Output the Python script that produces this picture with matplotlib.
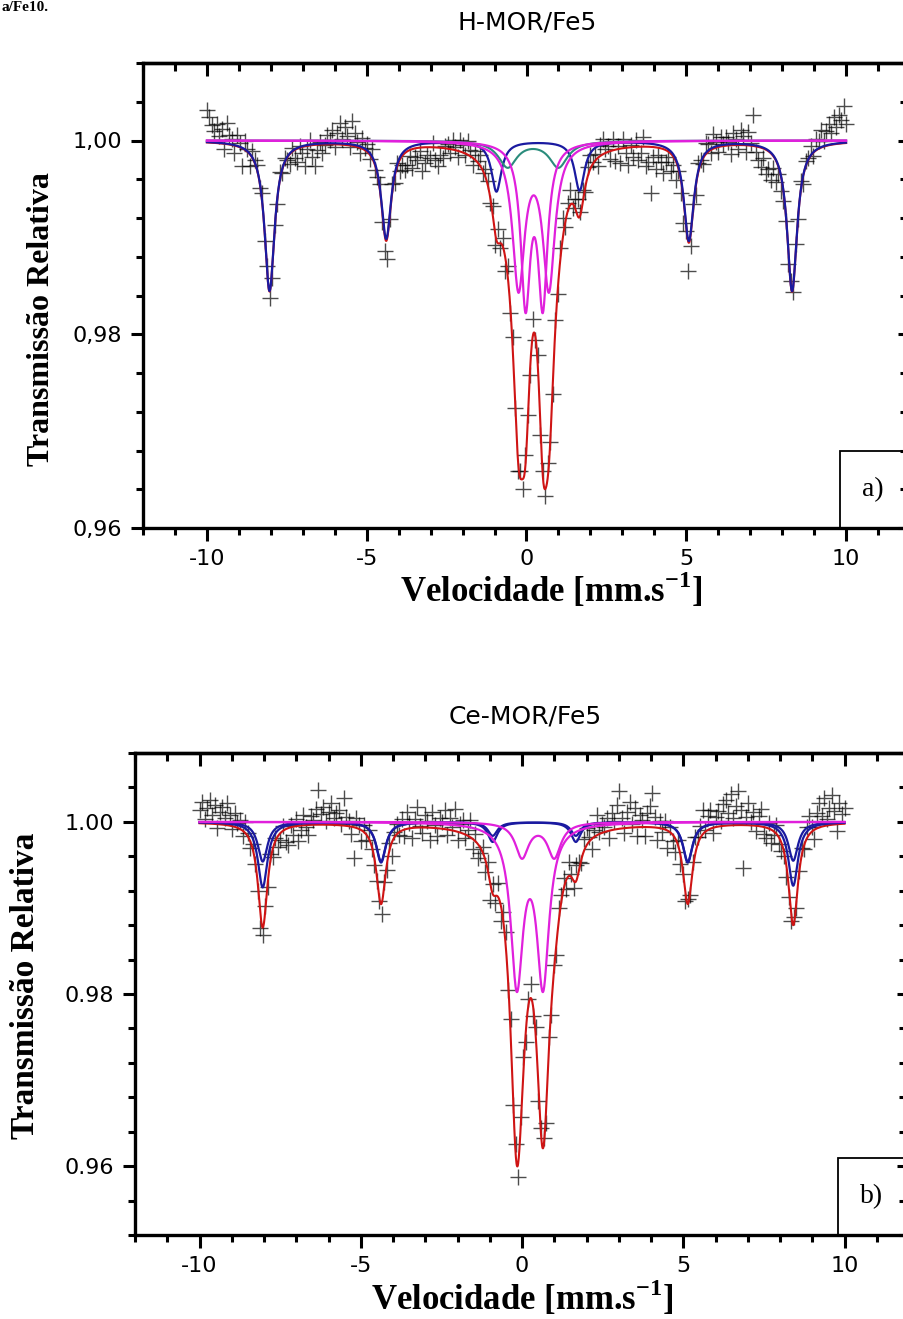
import numpy as np
import matplotlib.pyplot as plt
from matplotlib.ticker import MultipleLocator, FixedLocator, FixedFormatter
from matplotlib.patches import Rectangle

plt.rcParams['font.family'] = ['DejaVu Sans']
plt.rcParams['axes.unicode_minus'] = False
plt.rcParams['mathtext.fontset'] = 'custom'
plt.rcParams['mathtext.rm'] = 'Liberation Serif'
plt.rcParams['mathtext.bf'] = 'Liberation Serif:bold'

# velocity channels of the spectrometer (mm/s)
n_channels = 256
velocity = np.linspace(-10, 10, n_channels)
v_fit = np.linspace(-10, 10, 2001)

# ---------- a) H-MOR/Fe5 : Lorentzian components ----------
a_sext_pos = [-8.04, -4.39, -0.94, 1.66, 5.08, 8.31]
a_sext_depth = [0.0155, 0.0101, 0.0052, 0.0051, 0.0103, 0.0155]
a_sext_fwhm = 0.38
a_green_pos = [-0.59, 1.00]
a_green_depth = [0.0027, 0.0027]
a_green_fwhm = 0.70
a_magA_pos = [-0.25, 0.70]
a_magA_depth = [0.0149, 0.0149]
a_magA_fwhm = 0.46
a_magB_pos = [-0.03, 0.51]
a_magB_depth = [0.0162, 0.0162]
a_magB_fwhm = 0.36
# central lines of the total fit (red)
a_fit_pos = [-0.25, 0.70, -0.03, 0.51]
a_fit_depth = [0.0230, 0.0212, 0.0164, 0.0170]
a_fit_fwhm = [0.46, 0.46, 0.36, 0.36]

# residuals of the measured points about the fit (units of 1e-4)
a_resid = [
    33, 26, 18, 12, 20, 8, 15, -5, 22, 10,
    6, -8, 12, 4, -18, 9, 2, -12, 7, 3,
    5, -6, 8, -10, 4, -7, -9, 6, -4, 10, -3, 5,
    -2, -10, 4, -8, -14, 2, -6, -20, -3, 6, -12, -22, -5, 3, -9, -1,
    10, 4, 15, -3, 12, 22, 6, 18, 9, -2, 26, 14, 5, -6, 11, 2,
    8, -4, 10, -6, -3, 6, -9, -15, -22, -5, 7, -8, 3, -12, -10, -18,
    -14, -6, -20, -9, -12, -3, -24, -16, -8, -11, 4, -13, -19, -7, -10, 2,
    5, -4, 10, 3, -6, 12, 8, -2, 14, 6, -8, 9, 2, 11, -3, 7,
    4, -6, 9, -12, 15, -5, 8, -14, 10, -8, 12, -3, -15, 7, -10, 13,
    6, -9, 18, -4, 11, -13, 5, -7, 14, -2, -11, 9, -6, 12, 20, -5,
    8, 15, -4, 10, 18, 3, 12, -6, 9, 14, 2, 7, -8, 11, 16, 4,
    6, -8, 12, -12, 3, -15, 9, -5, -18, 2, -10, 7, -14, -6, 10, -20,
    -16, -48, -10, -22, -8, -14, -25, -12, -6, -18, -9, -20, -4, -15, -28, -10,
    -30, -12, 5, -8, 10, 4, -6, 12, 8, -3, 15, 6, -5, 10, 2, 9,
    4, -9, 12, 6, -4, 16, 9, -7, 14, 3, 32, -6, -14, -20, -10, -25,
    -18, -28, -12, -22, -8, -15, -10, -5, -12, 6, -8, 4, -6, 8, -10, 5,
    2, 10, -4, 12, 8, 18, 6, 15, 22, 12, 28, 18, 30, 24, 38, 20,
]

# ---------- b) Ce-MOR/Fe5 ----------
b_sext_pos = [-8.04, -4.37, -0.91, 1.67, 5.14, 8.41]
b_sext1_depth = [0.0076, 0.0047, 0.0023, 0.0023, 0.0047, 0.0074]
b_sext2_depth = [0.0046, 0.0046, 0.0016, 0.0016, 0.0046, 0.0045]
b_sext_fwhm = 0.36
b_magA_pos = [0.00, 1.00]
b_magA_depth = [0.00406, 0.00406]
b_magA_fwhm = 0.50
b_magB_pos = [-0.16, 0.65]
b_magB_depth = [0.0184, 0.0184]
b_magB_fwhm = 0.46
b_fit_pos = [-0.16, 0.65]
b_fit_depth = [0.0338, 0.0330]
b_fit_fwhm = 0.49

b_resid = [
    15, 25, 5, 18, 28, 10, 22, -5, 14, 20, 8, 26, 12, -3, 16, 6,
    10, -6, 12, 4, -8, 6, -3, -10, -20, -8, 5, -6, 9, -10, 4, -12,
    -8, 6, -15, -20, 3, -10, 8, -18, -5, 12, -2, -12, 10, 5, 18, 40,
    12, 20, 4, 15, 25, 8, 14, 18, 2, 32, 10, 6, -8, -36, 12, 4,
    -12, 8, -6, 10, -4, -10, -8, -6, -12, 5, -5, 10, -15, 6, 12, -4,
    14, -8, 20, 6, -12, 10, 24, 2, -6, 15, 8, -14, 18, 4, -9, 12,
    8, 22, -6, 14, 4, 26, -10, 10, 16, -4, 6, 20, -12, 8, -16, -6,
    6, -14, 10, -18, 12, -8, 16, -20, 8, 14, -10, 18, -6, 12, -16, 10,
    20, -12, 8, 16, -8, 14, -18, 6, 10, -14, 22, -6, 12, -10, 16, 8,
    12, -10, 16, 4, -8, 18, 10, -4, 14, 20, 6, -12, 8, 24, 2, 10,
    6, 16, -8, 20, 10, 28, 44, 12, -6, 18, 30, 4, 22, -10, 14, 8,
    -10, 16, 24, 40, 12, -14, 8, -4, 10, -20, 6, -8, -16, 4, -12, -6,
    -12, 6, -4, 10, 20, 8, 14, 28, 2, 16, 22, -6, 12, 18, 6, 26,
    30, 14, 36, 8, 22, 40, 18, -50, 10, 26, 4, 16, -6, 12, 20, -8,
    -12, 6, -16, -4, 10, -8, -10, -6, -14, -10, -6, 8, -8, 4, 10, -4,
    14, 22, 6, -10, 18, 28, 12, 32, 8, 20, 34, 16, -8, 24, 12, 18,
]

a_title = 'H-MOR/Fe5'
b_title = 'Ce-MOR/Fe5'
a_yticklabels = ['0,96', '0,98', '1,00']
b_yticklabels = ['0.96', '0.98', '1.00']
yticks = [0.96, 0.98, 1.00]
xticks = [-10, -5, 0, 5, 10]

C_RED = '#cf1414'
C_BLUE = '#1a1aa0'
C_MAG = '#e020dc'
C_GREEN = '#2a8c7c'


def absorption(x, pos, depth, fwhm):
    x = np.asarray(x)[:, None]
    g = np.asarray(fwhm) / 2.0
    return np.sum(np.asarray(depth) * g**2 / ((x - np.asarray(pos))**2 + g**2), axis=1)


fig = plt.figure(figsize=(9.04, 13.19), dpi=100)
ax1 = fig.add_axes([143 / 904, 1 - 528 / 1319, 767 / 904, 465 / 1319])
ax2 = fig.add_axes([135 / 904, 1 - 1235 / 1319, 774 / 904, 482 / 1319])

# ----- panel a -----
a_fit = lambda v: 1 - (absorption(v, a_sext_pos, a_sext_depth, a_sext_fwhm)
                       + absorption(v, a_green_pos, a_green_depth, a_green_fwhm)
                       + absorption(v, a_fit_pos, a_fit_depth, a_fit_fwhm))
ax1.plot(velocity, a_fit(velocity) + np.array(a_resid) * 1e-4, '+', color='black',
         ms=11, mew=1.0, alpha=0.7, zorder=1)
ax1.plot(v_fit, a_fit(v_fit), color=C_RED, lw=1.5, zorder=2)
ax1.plot(v_fit, 1 - absorption(v_fit, a_sext_pos, a_sext_depth, a_sext_fwhm), color=C_BLUE, lw=1.6, zorder=3)
ax1.plot(v_fit, 1 - absorption(v_fit, a_green_pos, a_green_depth, a_green_fwhm), color=C_GREEN, lw=1.5, zorder=3)
ax1.plot(v_fit, 1 - absorption(v_fit, a_magA_pos, a_magA_depth, a_magA_fwhm), color=C_MAG, lw=1.6, zorder=4)
ax1.plot(v_fit, 1 - absorption(v_fit, a_magB_pos, a_magB_depth, a_magB_fwhm), color=C_MAG, lw=1.6, zorder=4)

# ----- panel b -----
b_fit = lambda v: 1 - (absorption(v, b_sext_pos, b_sext1_depth, b_sext_fwhm)
                       + absorption(v, b_sext_pos, b_sext2_depth, b_sext_fwhm)
                       + absorption(v, b_magA_pos, b_magA_depth, b_magA_fwhm)
                       + absorption(v, b_fit_pos, b_fit_depth, b_fit_fwhm))
ax2.plot(velocity, b_fit(velocity) + np.array(b_resid) * 1e-4, '+', color='black',
         ms=11, mew=1.0, alpha=0.7, zorder=1)
ax2.plot(v_fit, b_fit(v_fit), color=C_RED, lw=1.5, zorder=2)
ax2.plot(v_fit, 1 - absorption(v_fit, b_sext_pos, b_sext1_depth, b_sext_fwhm), color=C_BLUE, lw=1.6, zorder=3)
ax2.plot(v_fit, 1 - absorption(v_fit, b_sext_pos, b_sext2_depth, b_sext_fwhm), color=C_BLUE, lw=1.6, zorder=3)
ax2.plot(v_fit, 1 - absorption(v_fit, b_magA_pos, b_magA_depth, b_magA_fwhm), color=C_MAG, lw=1.6, zorder=4)
ax2.plot(v_fit, 1 - absorption(v_fit, b_magB_pos, b_magB_depth, b_magB_fwhm), color=C_MAG, lw=1.6, zorder=4)


def style_axes(ax, ylim, ylabels, panel, box_top, ylab_pos, xlab_pos, ylab_size):
    ax.set_xlim(-12, 12)
    ax.set_ylim(*ylim)
    for s in ax.spines.values():
        s.set_linewidth(2.4)
    ax.set_xticks(xticks)
    ax.xaxis.set_minor_locator(MultipleLocator(1))
    ax.yaxis.set_major_locator(FixedLocator(yticks))
    ax.yaxis.set_major_formatter(FixedFormatter(ylabels))
    ax.yaxis.set_minor_locator(MultipleLocator(0.004))
    ax.tick_params(which='major', direction='out', length=9, width=2.2, labelsize=16, pad=6)
    ax.tick_params(which='minor', direction='out', length=5, width=2.2)
    # mirrored ticks pointing inward on top and right
    top = ax.secondary_xaxis('top')
    top.set_xticks(xticks)
    top.xaxis.set_minor_locator(MultipleLocator(1))
    top.tick_params(which='major', direction='in', length=9, width=2.2, labeltop=False)
    top.tick_params(which='minor', direction='in', length=6, width=2.2)
    top.spines['top'].set_linewidth(2.4)
    right = ax.secondary_yaxis('right')
    right.yaxis.set_major_locator(FixedLocator(yticks))
    right.yaxis.set_minor_locator(MultipleLocator(0.004))
    right.tick_params(which='major', direction='in', length=9, width=2.2, labelright=False)
    right.tick_params(which='minor', direction='in', length=7, width=2.2)
    right.spines['right'].set_linewidth(2.4)

    ax.set_ylabel('Transmissão Relativa', family='Liberation Serif', weight='bold', size=ylab_size)
    ax.yaxis.set_label_coords(*ylab_pos)
    ax.yaxis.label.set_va('center')
    ax.set_xlabel('Velocidade [mm.s$^{\\mathbf{-1}}$]', family='Liberation Serif', weight='bold', size=25)
    ax.xaxis.set_label_coords(*xlab_pos)
    ax.xaxis.label.set_va('center')

    ax.add_patch(Rectangle((9.8, ylim[0]), 2.4, box_top - ylim[0], fill=False,
                           edgecolor='black', lw=1.3, zorder=5, clip_on=False))
    ax.text(10.83, (ylim[0] + box_top) / 2, panel, family='Liberation Serif', size=20,
            ha='center', va='center', zorder=6)


style_axes(ax1, (0.96, 1.008), a_yticklabels, 'a)', 0.968,
           (-0.132, 0.45), (0.533, -0.133), 23)
style_axes(ax2, (0.952, 1.008), b_yticklabels, 'b)', 0.961,
           (-0.142, 0.517), (0.50, -0.131), 24)

fig.text(527 / 904, 1 - 22 / 1319, a_title, ha='center', va='center', size=18)
fig.text(525 / 904, 1 - 716 / 1319, b_title, ha='center', va='center', size=18)
fig.text(1 / 904, 1 - 11 / 1319, 'a/Fe10.', family='Liberation Serif', weight='bold',
         size=11, ha='left', va='baseline')

fig.savefig('out.png', dpi=100)
